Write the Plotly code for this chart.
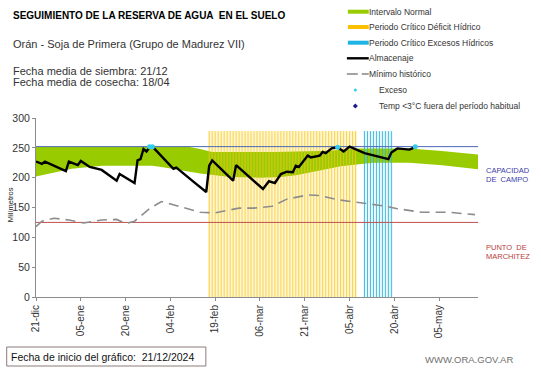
import plotly.graph_objects as go
import pandas as pd

# ---------------- DATA ----------------
start_date = "2024-12-21"
end_date = "2025-05-18"

tick_dates = ["2024-12-21", "2025-01-05", "2025-01-20", "2025-02-04", "2025-02-19",
              "2025-03-06", "2025-03-21", "2025-04-05", "2025-04-20", "2025-05-05"]
tick_labels = ["21-dic", "05-ene", "20-ene", "04-feb", "19-feb",
               "06-mar", "21-mar", "05-abr", "20-abr", "05-may"]

# Intervalo normal (banda verde)
band_upper_dates = ["2024-12-21", "2025-02-10", "2025-02-14", "2025-02-18", "2025-03-11",
                    "2025-03-29", "2025-04-08", "2025-04-25", "2025-05-05", "2025-05-18"]
band_upper_vals = [252, 252, 248, 243, 243, 245, 249, 249, 245, 239]
band_lower_dates = ["2024-12-21", "2024-12-27", "2025-01-02", "2025-01-12", "2025-01-29",
                    "2025-02-02", "2025-02-08", "2025-02-14", "2025-02-24", "2025-03-06",
                    "2025-03-13", "2025-03-18", "2025-03-29", "2025-04-02", "2025-04-13",
                    "2025-04-25", "2025-05-06", "2025-05-18"]
band_lower_vals = [202, 209, 215, 220, 220, 217, 212, 207, 201, 200,
                   201, 204, 215, 219, 225, 225, 221, 214]

# Almacenaje
alm_dates = ["2024-12-21", "2024-12-23", "2024-12-24", "2024-12-31", "2025-01-01",
             "2025-01-04", "2025-01-05", "2025-01-08", "2025-01-12", "2025-01-17",
             "2025-01-18", "2025-01-23", "2025-01-24", "2025-01-25", "2025-01-26",
             "2025-01-27", "2025-01-28", "2025-01-29", "2025-02-05", "2025-02-06",
             "2025-02-12", "2025-02-16", "2025-02-17", "2025-02-18", "2025-02-25",
             "2025-02-26", "2025-03-07", "2025-03-09", "2025-03-11", "2025-03-13",
             "2025-03-15", "2025-03-17", "2025-03-18", "2025-03-19", "2025-03-22",
             "2025-03-23", "2025-03-26", "2025-03-27", "2025-03-28", "2025-03-30",
             "2025-04-01", "2025-04-03", "2025-04-05", "2025-04-10", "2025-04-18",
             "2025-04-19", "2025-04-21", "2025-04-25", "2025-04-26", "2025-04-27"]
alm_vals = [227, 223, 227, 211, 227, 221, 228, 218, 213, 195,
            206, 191, 229, 231, 248, 244, 251, 252, 215, 217,
            192, 176, 220, 229, 195, 221, 181, 194, 191, 206,
            210, 209, 220, 218, 237, 234, 237, 243, 241, 249,
            251, 244, 252, 241, 231, 242, 249, 247, 249, 252]

# Mínimo histórico
min_dates = ["2024-12-21", "2024-12-23", "2024-12-27", "2025-01-01", "2025-01-06",
             "2025-01-12", "2025-01-17", "2025-01-20", "2025-01-23", "2025-01-28",
             "2025-02-01", "2025-02-08", "2025-02-14", "2025-02-19", "2025-02-27",
             "2025-03-04", "2025-03-10", "2025-03-15", "2025-03-22", "2025-03-26",
             "2025-04-01", "2025-04-07", "2025-04-16", "2025-04-21", "2025-04-29",
             "2025-05-08", "2025-05-17"]
min_vals = [118, 127, 132, 129, 124, 129, 130, 123, 127, 148,
            160, 151, 142, 141, 149, 149, 152, 164, 171, 170,
            163, 159, 153, 148, 142, 142, 138]

# Exceso (puntos)
exceso_dates = ["2025-01-28", "2025-01-29", "2025-04-01", "2025-04-27"]
exceso_vals = [252, 252, 251, 252]

# Periodos críticos
deficit_start, deficit_end = "2025-02-17", "2025-04-07"
exceso_start, exceso_end = "2025-04-10", "2025-04-19"
periodo_altura = 278

capacidad_campo = 252
punto_marchitez = 125

# ---------------- FIGURE ----------------
W, H = 541, 368
ML, MR, MT, MB = 33, 63, 118, 71
PW, PH = W - ML - MR, H - MT - MB


def px(x):
    return (x - ML) / PW


def py(y):
    return (H - MB - y) / PH


fig = go.Figure()

deficit_days = list(pd.date_range(deficit_start, deficit_end, freq="D"))
exceso_days = list(pd.date_range(exceso_start, exceso_end, freq="D"))
day_ms = 86400000

# pale background columns (bar layer, below everything)
fig.add_trace(go.Bar(x=deficit_days, y=[periodo_altura] * len(deficit_days),
                     width=day_ms, marker=dict(color="#FFF7D2", line=dict(width=0)),
                     showlegend=False, hoverinfo="skip"))
fig.add_trace(go.Bar(x=exceso_days, y=[periodo_altura] * len(exceso_days),
                     width=day_ms, marker=dict(color="#EAF8FC", line=dict(width=0)),
                     showlegend=False, hoverinfo="skip"))

# green band
fig.add_trace(go.Scatter(x=band_lower_dates, y=band_lower_vals, mode="lines",
                         line=dict(width=0, color="rgba(0,0,0,0)"), showlegend=False,
                         hoverinfo="skip"))
fig.add_trace(go.Scatter(x=band_upper_dates, y=band_upper_vals, mode="lines",
                         line=dict(width=0, color="rgba(0,0,0,0)"), fill="tonexty",
                         fillcolor="#99CC00", showlegend=False, hoverinfo="skip"))


def stripes(days):
    xs, ys = [], []
    for d in days:
        xs += [d, d, None]
        ys += [0, periodo_altura, None]
    return xs, ys


xs, ys = stripes(deficit_days)
fig.add_trace(go.Scatter(x=xs, y=ys, mode="lines",
                         line=dict(width=1.0, color="rgba(245,198,35,0.75)"),
                         showlegend=False, hoverinfo="skip"))
xs, ys = stripes(exceso_days)
fig.add_trace(go.Scatter(x=xs, y=ys, mode="lines",
                         line=dict(width=1.0, color="rgba(45,180,222,0.85)"),
                         showlegend=False, hoverinfo="skip"))

# reference lines
fig.add_trace(go.Scatter(x=[start_date, end_date], y=[capacidad_campo] * 2, mode="lines",
                         line=dict(width=1, color="#4A68B4"), showlegend=False))
fig.add_trace(go.Scatter(x=[start_date, end_date], y=[punto_marchitez] * 2, mode="lines",
                         line=dict(width=1, color="#C0504D"), showlegend=False))

# minimo historico
fig.add_trace(go.Scatter(x=min_dates, y=min_vals, mode="lines",
                         line=dict(width=1.6, color="#8C8C8C", dash="10px,6px"),
                         showlegend=False))
# almacenaje
fig.add_trace(go.Scatter(x=alm_dates, y=alm_vals, mode="lines",
                         line=dict(width=2.4, color="black"), showlegend=False))
# exceso
fig.add_trace(go.Scatter(x=exceso_dates, y=exceso_vals, mode="markers",
                         marker=dict(size=5, color="#33CCEE"), showlegend=False))

fig.update_layout(
    width=W, height=H,
    margin=dict(l=ML, r=MR, t=MT, b=MB, pad=0),
    paper_bgcolor="white", plot_bgcolor="white",
    font=dict(family="Liberation Sans, Arial, sans-serif", color="#222"),
    bargap=0, barmode="overlay",
    xaxis=dict(type="date", range=[start_date, end_date], tickmode="array",
               tickvals=tick_dates, ticktext=tick_labels, tickangle=-90,
               tickfont=dict(size=10, color="#333"), showgrid=False, zeroline=False,
               showline=True, linecolor="#8C8C8C", linewidth=1,
               ticks="outside", ticklen=3, tickcolor="#8C8C8C"),
    yaxis=dict(range=[0, 300], tickvals=[0, 50, 100, 150, 200, 250, 300],
               tickfont=dict(size=10.5, color="#333"), showgrid=False, zeroline=False,
               showline=True, linecolor="#8C8C8C", linewidth=1,
               ticks="outside", ticklen=3, tickcolor="#8C8C8C"),
)

ann = []


def text(x, y, s, size, color="#333", bold=False, anchor="left", angle=0):
    ann.append(dict(x=px(x), y=py(y), xref="paper", yref="paper", text=("<b>%s</b>" % s) if bold else s,
                    showarrow=False, xanchor=anchor, yanchor="middle", textangle=angle,
                    font=dict(size=size, color=color, family="Liberation Sans, Arial, sans-serif")))


text(8, 15, "SEGUIMIENTO DE LA RESERVA DE AGUA  EN EL SUELO", 10, "black", bold=True)
text(8, 44, "Orán - Soja de Primera (Grupo de Madurez VII)", 11, "#333")
text(8, 71, "Fecha media de siembra: 21/12", 11, "#333")
text(8, 82, "Fecha media de cosecha: 18/04", 11, "#333")
text(7, 205, "Milímetros", 7.5, "#222", anchor="center", angle=-90)
text(484, 170, "CAPACIDAD", 7.5, "#3C3CAA")
text(484, 179, "DE  CAMPO", 7.5, "#3C3CAA")
text(484, 247, "PUNTO  DE", 7.5, "#B83C3C")
text(484, 256, "MARCHITEZ", 7.5, "#B83C3C")
text(6, 357, "Fecha de inicio del gráfico:  21/12/2024", 10.5, "#111")
text(423, 359, "WWW.ORA.GOV.AR", 9.5, "#707070")

legend_items = ["Intervalo Normal", "Periodo Crítico Déficit Hídrico",
                "Periodo Crítico Excesos Hídricos", "Almacenaje", "Mínimo histórico",
                "Exceso", "Temp <3°C fuera del período habitual"]
legend_rows = [11.7, 27, 42.7, 58.3, 74, 90, 106]
for lbl, yy in zip(legend_items, legend_rows):
    xt = 366 if lbl not in ("Exceso", "Temp <3°C fuera del período habitual") else 376
    text(xt, yy, lbl, 8.5, "#333")

shapes = []


def seg(x0, x1, y, color, width, dash=None):
    shapes.append(dict(type="line", xref="paper", yref="paper", x0=px(x0), x1=px(x1),
                       y0=py(y), y1=py(y), line=dict(color=color, width=width, dash=dash)))


seg(347, 368, legend_rows[0], "#99CC00", 4)
seg(347, 368, legend_rows[1], "#FFC000", 4)
seg(347, 368, legend_rows[2], "#1EB4E6", 4)
seg(346, 368, legend_rows[3], "black", 2.4)
seg(346, 357, legend_rows[4], "#8C8C8C", 1.6)
seg(361, 368, legend_rows[4], "#8C8C8C", 1.6)
shapes.append(dict(type="circle", xref="paper", yref="paper",
                   x0=px(353), x1=px(356), y0=py(88.5), y1=py(91.5),
                   fillcolor="#33CCEE", line=dict(width=0)))
shapes.append(dict(type="path", xref="paper", yref="paper",
                   path="M %f,%f L %f,%f L %f,%f L %f,%f Z" % (
                       px(354.5), py(103.5), px(357), py(106), px(354.5), py(108.5), px(352), py(106)),
                   fillcolor="#1A1A8C", line=dict(width=0)))
# bottom box
shapes.append(dict(type="rect", xref="paper", yref="paper", x0=px(3.5), x1=px(204),
                   y0=py(366), y1=py(347), line=dict(color="#8C7B7B", width=1)))

fig.update_layout(annotations=ann, shapes=shapes)
fig.write_html("out.html", config={"displayModeBar": False},
               post_script="document.body.style.margin='0px';document.body.style.padding='0px';document.body.style.overflow='hidden';")
